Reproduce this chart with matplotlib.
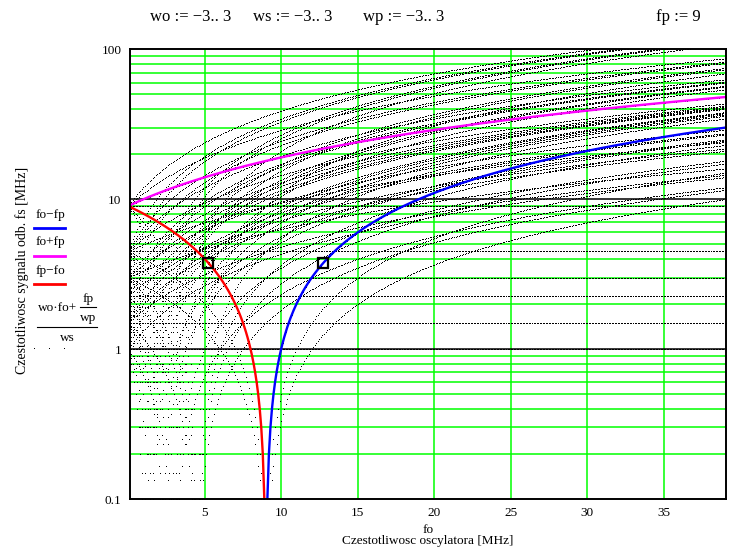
import numpy as np
import matplotlib
matplotlib.use("Agg")
import matplotlib.pyplot as plt
from matplotlib.lines import Line2D

# ---- data (parameters of the Mathcad sheet) ----
fp = 9
wo_vals = [-3, -2, -1, 0, 1, 2, 3]
ws_vals = [-3, -2, -1, 0, 1, 2, 3]
wp_vals = [-3, -2, -1, 0, 1, 2, 3]
fo_start, fo_stop, fo_step = 0.1, 39.1, 0.1
marked_fo = [5.25, 12.75]
marked_fs = [3.75, 3.75]
x_ticks = [5, 10, 15, 20, 25, 30, 35]
y_ticks = [0.1, 1, 10, 100]
y_tick_labels = ["0.1", "1", "10", "100"]

fo = np.arange(fo_start, fo_stop + fo_step / 2, fo_step)

W, H = 755, 558
fig = plt.figure(figsize=(W / 100, H / 100), dpi=100)
SERIF = ["Liberation Serif", "DejaVu Serif"]
plt.rcParams['font.family'] = SERIF

L, R, T, B = 129.7, 726.3, 49.3, 499.0
ax = fig.add_axes([L / W, 1 - B / H, (R - L) / W, (B - T) / H])
ax.set_yscale('log')
ax.set_xlim(fo_start, fo_stop)
ax.set_ylim(0.1, 100)

GREEN = '#00ff00'
# grid
for xv in x_ticks:
    ax.axvline(xv, color=GREEN, lw=1.1, zorder=1)
for dec in [0.1, 1, 10]:
    for k in range(2, 10):
        ax.axhline(dec * k, color=GREEN, lw=1.1, zorder=1)
for yv in [1, 10]:
    ax.axhline(yv, color='black', lw=1.1, zorder=1)

# family of image-frequency curves
xs, ys = [], []
for wo in wo_vals:
    for ws in ws_vals:
        for wp in wp_vals:
            if ws == 0 or wp == 0:
                continue
            y = (wo * fo + fp / wp) / ws
            m = y > 0
            xs.append(fo[m]); ys.append(y[m])
xs = np.concatenate(xs); ys = np.concatenate(ys)
ax.plot(xs, ys, linestyle='none', marker='s', markersize=0.72,
        markeredgewidth=0, color='black', zorder=2, antialiased=False)

# main curves
blue = fo - fp
red = fp - fo
mag = fo + fp
ax.plot(fo[blue > 0], blue[blue > 0], color='#0000ff', lw=1.7, zorder=3)
ax.plot(fo[red > 0], red[red > 0], color='#ff0000', lw=1.7, zorder=3)
ax.plot(fo, mag, color='#ff00ff', lw=1.7, zorder=3)

ax.plot(marked_fo, marked_fs, linestyle='none', marker='s', markersize=6.5,
        markerfacecolor='none', markeredgecolor='black', markeredgewidth=1.6, zorder=4)

ax.set_xticks(x_ticks)
ax.set_xticklabels([str(v) for v in x_ticks])
ax.set_yticks(y_ticks)
ax.set_yticklabels(y_tick_labels)
ax.yaxis.set_minor_locator(matplotlib.ticker.NullLocator())
ax.tick_params(length=0, labelsize=9.5, pad=6)
for lab in ax.get_xticklabels() + ax.get_yticklabels():
    lab.set_family(SERIF)
for s in ax.spines.values():
    s.set_linewidth(1.4)
    s.set_zorder(5)

def fx(px):
    return px / W

def fy(py):
    return 1 - py / H

fs = 9.5
# axis labels
fig.text(fx(428), fy(530), "fo", ha='center', va='center', fontsize=fs)
fig.text(fx(428), fy(541), "Czestotliwosc oscylatora [MHz]", ha='center', va='center', fontsize=fs)
fig.text(fx(22), fy(270), "Czestotliwosc sygnalu odb. fs [MHz]", ha='center', va='center',
         rotation=90, fontsize=10)

# header
hs = 12
fig.text(fx(150), fy(17), "wo := \u22123.. 3", ha='left', va='center', fontsize=hs)
fig.text(fx(253), fy(17), "ws := \u22123.. 3", ha='left', va='center', fontsize=hs)
fig.text(fx(363), fy(17), "wp := \u22123.. 3", ha='left', va='center', fontsize=hs)
fig.text(fx(656), fy(17), "fp := 9", ha='left', va='center', fontsize=hs)

# legend
def hline(x0, x1, y, color, lw):
    fig.add_artist(Line2D([fx(x0), fx(x1)], [fy(y), fy(y)], color=color, lw=lw,
                          transform=fig.transFigure))

fig.text(fx(50), fy(215), "fo\u2212fp", ha='center', va='center', fontsize=fs)
hline(34, 65, 227.7, '#0000ff', 2)
fig.text(fx(50), fy(242), "fo+fp", ha='center', va='center', fontsize=fs)
hline(34, 65, 256, '#ff00ff', 2)
fig.text(fx(50), fy(271), "fp\u2212fo", ha='center', va='center', fontsize=fs)
hline(34, 65, 283.7, '#ff0000', 2)

fig.text(fx(38), fy(308), "wo\u00b7fo+", ha='left', va='center', fontsize=fs)
fig.text(fx(88), fy(299), "fp", ha='center', va='center', fontsize=fs)
hline(80, 96, 307, 'black', 0.8)
fig.text(fx(88), fy(318), "wp", ha='center', va='center', fontsize=fs)
hline(37, 97, 327, 'black', 0.8)
fig.text(fx(67), fy(338), "ws", ha='center', va='center', fontsize=fs)
for dx in [34, 49, 64]:
    fig.add_artist(Line2D([fx(dx)], [fy(348)], marker='s', markersize=0.72,
                          markeredgewidth=0, color='black', transform=fig.transFigure,
                          antialiased=False))

fig.savefig("out.png", dpi=100)
